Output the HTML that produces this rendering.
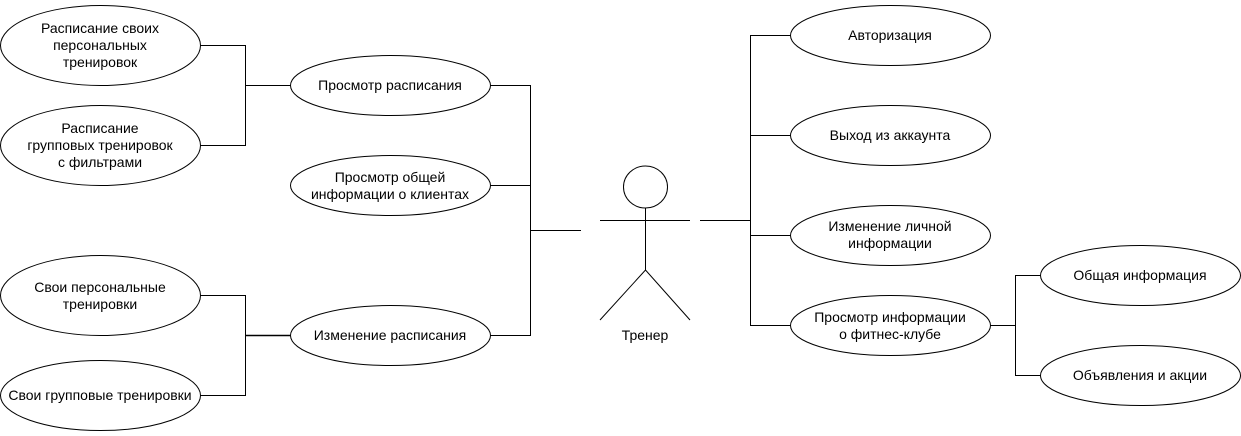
<!DOCTYPE html>
<html><head><meta charset="utf-8"><style>
body{margin:0;background:#fff}
svg text{font-family:"Liberation Sans",Arial,sans-serif;font-size:14px;fill:#000}
</style></head><body>
<svg width="1241" height="431" viewBox="0 0 1241 431" xmlns="http://www.w3.org/2000/svg">
<g fill="#fff" stroke="#000" stroke-width="1">
<ellipse cx="100.5" cy="45.5" rx="100" ry="40"/>
<ellipse cx="100.5" cy="145.5" rx="100" ry="40"/>
<ellipse cx="100.5" cy="295.5" rx="100" ry="40"/>
<ellipse cx="100.5" cy="395.5" rx="100" ry="35"/>
<ellipse cx="390.5" cy="85.5" rx="100" ry="30"/>
<ellipse cx="390.5" cy="185.5" rx="100" ry="30"/>
<ellipse cx="390.5" cy="335.5" rx="100" ry="30"/>
<ellipse cx="890.5" cy="35.5" rx="100" ry="30"/>
<ellipse cx="890.5" cy="135.5" rx="100" ry="30"/>
<ellipse cx="890.5" cy="235.5" rx="100" ry="30"/>
<ellipse cx="890.5" cy="325.5" rx="100" ry="30"/>
<ellipse cx="1140.5" cy="275.5" rx="100" ry="30"/>
<ellipse cx="1140.5" cy="375.5" rx="100" ry="30"/>
</g>
<g fill="none" stroke="#000" stroke-width="1">
<polyline points="200.5,45.5 245.5,45.5 245.5,145.5 200.5,145.5"/>
<line x1="245.5" y1="85.5" x2="290.5" y2="85.5"/>
<polyline points="200.5,295.5 245.5,295.5 245.5,395.5 200.5,395.5"/>
<line x1="245.5" y1="335.5" x2="290.5" y2="335.5" stroke-width="1.5"/>
<polyline points="490.5,85.5 530.5,85.5 530.5,335.5 490.5,335.5"/>
<line x1="490.5" y1="185.5" x2="530.5" y2="185.5"/>
<line x1="530.5" y1="230.5" x2="581" y2="230.5"/>
<ellipse cx="645.5" cy="187" rx="22" ry="21"/>
<line x1="600" y1="220.5" x2="690" y2="220.5"/>
<line x1="645.5" y1="208" x2="645.5" y2="270"/>
<polyline points="600,320 645.5,270 690,320"/>
<line x1="700" y1="220.5" x2="750.5" y2="220.5"/>
<polyline points="790.5,35.5 750.5,35.5 750.5,325.5 790.5,325.5"/>
<line x1="750.5" y1="135.5" x2="790.5" y2="135.5"/>
<line x1="750.5" y1="235.5" x2="790.5" y2="235.5"/>
<line x1="990.5" y1="325.5" x2="1015.5" y2="325.5"/>
<polyline points="1040.5,275.5 1015.5,275.5 1015.5,375.5 1040.5,375.5"/>
</g>
<g text-anchor="middle">
<text x="100" y="33">Расписание своих</text>
<text x="100" y="50">персональных</text>
<text x="100" y="67">тренировок</text>
<text x="100" y="133">Расписание</text>
<text x="100" y="150">групповых тренировок</text>
<text x="100" y="167">с фильтрами</text>
<text x="100" y="292">Свои персональные</text>
<text x="100" y="309">тренировки</text>
<text x="100" y="400">Свои групповые тренировки</text>
<text x="390" y="90">Просмотр расписания</text>
<text x="390" y="182">Просмотр общей</text>
<text x="390" y="199">информации о клиентах</text>
<text x="390" y="340">Изменение расписания</text>
<text x="645" y="340">Тренер</text>
<text x="890" y="40">Авторизация</text>
<text x="890" y="140">Выход из аккаунта</text>
<text x="890" y="231">Изменение личной</text>
<text x="890" y="248">информации</text>
<text x="890" y="322">Просмотр информации</text>
<text x="890" y="339">о фитнес-клубе</text>
<text x="1140" y="280">Общая информация</text>
<text x="1140" y="380">Объявления и акции</text>
</g>
</svg>
</body></html>
